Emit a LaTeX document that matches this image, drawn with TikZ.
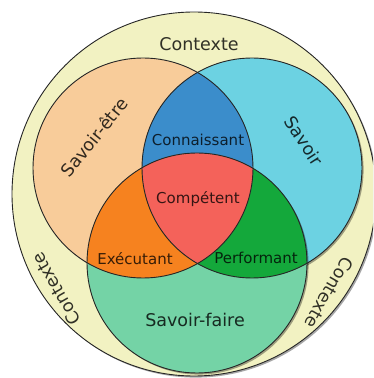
\documentclass[tikz,border=0pt]{standalone}
\usepackage{fontspec}
\setmainfont{DejaVu Sans}
\usetikzlibrary{shadows}
\definecolor{ctxc}{HTML}{F2F2C2}
\definecolor{etrec}{HTML}{F8CC9A}
\definecolor{savc}{HTML}{6CD2E2}
\definecolor{faic}{HTML}{74D3A6}
\definecolor{conc}{HTML}{3B8DCB}
\definecolor{comc}{HTML}{F4625A}
\definecolor{exec}{HTML}{F6821F}
\definecolor{perc}{HTML}{14A83B}
\definecolor{edgec}{HTML}{262626}
\tikzset{
  shad/.style={drop shadow={shadow xshift=1.6pt, shadow yshift=-1.6pt, opacity=0.35, fill=black}},
  outline/.style={draw=edgec, line width=0.9pt},
  lbl/.style={font=\fontsize{15}{18}\selectfont, text=black, text opacity=0.78, inner sep=0pt},
  biglbl/.style={font=\fontsize{17.5}{21}\selectfont, text=black, text opacity=0.8, inner sep=0pt}
}
\begin{document}
\begin{tikzpicture}[x=1pt,y=1pt]
\useasboundingbox (0,0) rectangle (373,378);
\clip (0,0) rectangle (373,378);
\coordinate (O) at (194,184);
\coordinate (A) at (143,210);
\coordinate (B) at (252,210);
\coordinate (C) at (197,115);
% outer context
\fill[ctxc, shad] (O) circle (182pt);
\draw[outline] (O) circle (182pt);
% three circles
\fill[etrec, shad] (A) circle (110pt);
\fill[savc, shad] (B) circle (110pt);
\fill[faic, shad] (C) circle (110pt);
% intersections
\begin{scope}
  \clip (A) circle (110pt);
  \fill[conc] (B) circle (110pt);
  \fill[exec] (C) circle (110pt);
\end{scope}
\begin{scope}
  \clip (B) circle (110pt);
  \fill[perc] (C) circle (110pt);
  \clip (C) circle (110pt);
  \fill[comc] (A) circle (110pt);
\end{scope}
% outlines
\draw[outline] (A) circle (110pt);
\draw[outline] (B) circle (110pt);
\draw[outline] (C) circle (110pt);
% labels
\node[biglbl] (ctxtop) at (199,334) {Contexte};
\node[biglbl, rotate=120] (ctxbl) at (56,89) {Contexte};
\node[biglbl, rotate=240] (ctxbr) at (329,85) {Contexte};
\node[biglbl, rotate=51] (etre) at (94,241) {Savoir-être};
\node[biglbl, rotate=-57] (sav) at (304,237) {Savoir};
\node[biglbl] (faire) at (195,58) {Savoir-faire};
\node[lbl] (conn) at (198,238) {Connaissant};
\node[lbl] (comp) at (198,179) {Compétent};
\node[lbl] (exe) at (135,119) {Exécutant};
\node[lbl] (perf) at (256,120) {Performant};
\end{tikzpicture}
\end{document}
